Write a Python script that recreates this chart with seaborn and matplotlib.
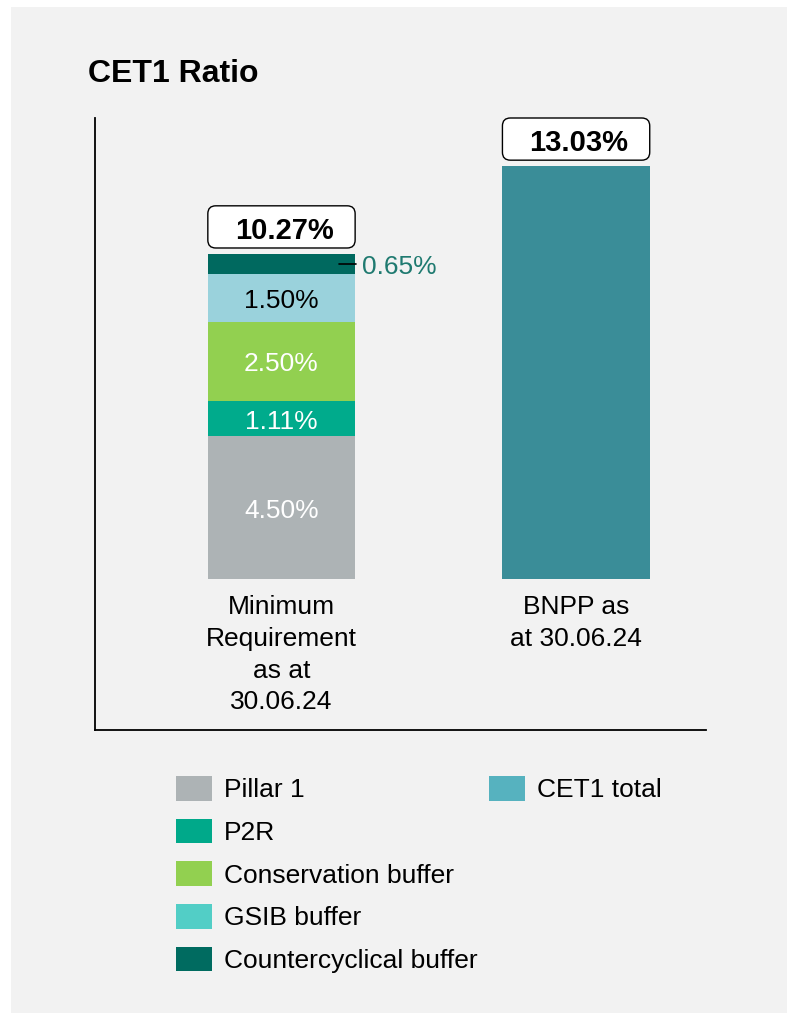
import numpy as np
import pandas as pd
import seaborn as sns
import matplotlib.pyplot as plt
from matplotlib.patches import Patch, Rectangle, FancyBboxPatch

# data
categories = ["Minimum\nRequirement\nas at\n30.06.24", "BNPP as\nat 30.06.24"]
segment_names = ["Pillar 1", "P2R", "Conservation buffer", "GSIB buffer", "Countercyclical buffer"]
segment_values = [4.50, 1.11, 2.50, 1.50, 0.65]
segment_colors = ["#adb3b5", "#00ab8c", "#92d050", "#9ad2dc", "#00695f"]
legend_colors = ["#adb3b5", "#00a98a", "#92d050", "#52cec6", "#006b60"]
segment_text_colors = ["white", "white", "white", "black", None]
total_labels = ["10.27%", "13.03%"]
cet1_total = 13.03
cet1_color = "#3a8d98"
cet1_legend_color = "#56b2bf"

sns.set_theme(style="white")
plt.rcParams["font.family"] = ["Liberation Sans", "DejaVu Sans"]
plt.rcParams["text.color"] = "black"

fig = plt.figure(figsize=(7.87, 10.13), dpi=100, facecolor="white")
fig.patches.append(Rectangle((11 / 787, 0), 1, 1 - 7 / 1013, transform=fig.transFigure,
                             facecolor="#f2f2f2", edgecolor="none", zorder=-10))
ax = fig.add_axes([95 / 787, 1 - 730 / 1013, 611 / 787, 612 / 1013])
ax.set_facecolor("none")

# stacked bar: draw cumulative totals from the top down
cum = np.cumsum(segment_values)
for i in range(len(segment_values) - 1, -1, -1):
    df = pd.DataFrame({"cat": [categories[0]], "val": [cum[i]]})
    sns.barplot(data=df, x="cat", y="val", order=categories, color=segment_colors[i],
                saturation=1, width=0.5, errorbar=None, linewidth=0, ax=ax)

df2 = pd.DataFrame({"cat": [categories[1]], "val": [cet1_total]})
sns.barplot(data=df2, x="cat", y="val", order=categories, color=cet1_color,
            saturation=1, width=0.5, errorbar=None, linewidth=0, ax=ax)

ax.set_xlim(-0.633, 1.441)
ax.set_ylim(-4.763, 14.54)
ax.set_xlabel("")
ax.set_ylabel("")
ax.set_xticks([])
ax.set_yticks([])
for s in ["top", "right"]:
    ax.spines[s].set_visible(False)
for s in ["left", "bottom"]:
    ax.spines[s].set_color("black")
    ax.spines[s].set_linewidth(1.3)

# segment labels (small downward nudge so glyphs sit visually centred)
nudge = 0.09
bottoms = cum - np.array(segment_values)
for v, b, tc in zip(segment_values, bottoms, segment_text_colors):
    if tc is None:
        continue
    ax.text(0, b + v / 2 - nudge, f"{v:.2f}%", ha="center", va="center", color=tc, fontsize=19)

# small countercyclical label outside the bar
yc = bottoms[-1] + segment_values[-1] / 2
ax.plot([0.195, 0.253], [yc, yc], color="black", lw=1.2)
ax.text(0.273, yc - nudge, f"{segment_values[-1]:.2f}%", ha="left", va="center",
        color="#1f7a70", fontsize=19)

# total boxes
tops = [cum[-1], cet1_total]
for xi, (t, lab) in enumerate(zip(tops, total_labels)):
    y0 = t + 0.18
    h = 1.33
    box = FancyBboxPatch((xi - 0.25, y0), 0.5, h,
                         boxstyle="round,pad=0,rounding_size=0.027",
                         mutation_aspect=9.29, facecolor="white",
                         edgecolor="black", lw=1.0, clip_on=False)
    ax.add_patch(box)
    ax.text(xi + 0.01, y0 + h / 2 - 0.12, lab, ha="center", va="center",
            fontsize=21, fontweight="bold", color="black")

# category labels
for xi, c in enumerate(categories):
    ax.text(xi, -0.52, c, ha="center", va="top", fontsize=19, linespacing=1.4)

fig.text(88 / 787, 1 - 82 / 1013, "CET1 Ratio", fontsize=23, fontweight="bold",
         ha="left", va="baseline")

# legend
handles = [Patch(facecolor=c, edgecolor="none") for c in legend_colors]
labels = list(segment_names)
handles += [Patch(facecolor=cet1_legend_color, edgecolor="none")]
labels += ["CET1 total"]
for _ in range(4):
    handles.append(Patch(facecolor="none", edgecolor="none"))
    labels.append("")
fig.legend(handles, labels, ncol=2, loc="upper left",
           bbox_to_anchor=(176 / 787, 1 - 776 / 1013), frameon=False,
           fontsize=19, labelcolor="black", handlelength=1.36, handleheight=1.06,
           handletextpad=0.45, labelspacing=0.62, columnspacing=0.45,
           borderpad=0, borderaxespad=0)

fig.savefig("out.png", dpi=100, facecolor="white")
